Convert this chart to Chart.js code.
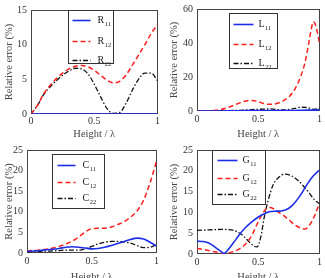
<!DOCTYPE html>
<html>
<head>
<meta charset="utf-8">
<script src="https://cdn.jsdelivr.net/npm/chart.js@4.4.0/dist/chart.umd.min.js"></script>
<style>
  html, body { margin: 0; padding: 0; background: #fff; width: 325px; height: 278px; overflow: hidden; }
  canvas { position: absolute; }
</style>
</head>
<body>
<canvas id="chartR"></canvas>
<canvas id="chartL"></canvas>
<canvas id="chartC"></canvas>
<canvas id="chartG"></canvas>
<script>
// ---- data ----
const xStep = [0, 0.05, 0.1, 0.15, 0.2, 0.25, 0.3, 0.35, 0.4, 0.45, 0.5, 0.55, 0.6, 0.65, 0.7, 0.75, 0.8, 0.85, 0.9, 0.95, 1];

const R11 = [0, 0, 0, 0, 0, 0, 0, 0, 0, 0, 0, 0, 0, 0, 0, 0, 0, 0, 0, 0, 0];
const R12 = [0, 1.2, 2.9, 4.1, 5.1, 5.9, 6.5, 6.9, 7.0, 6.8, 6.3, 5.6, 4.9, 4.5, 4.7, 5.6, 7.0, 8.5, 10.0, 11.6, 12.9];
const R22 = [0, 1.2, 2.8, 3.9, 4.8, 5.6, 6.2, 6.6, 6.5, 5.8, 4.3, 2.5, 0.8, 0.1, 0.2, 1.5, 3.4, 5.0, 5.9, 5.9, 4.8];

const xL = [0, 0.1, 0.2, 0.3, 0.4, 0.5, 0.6, 0.7, 0.8, 0.85, 0.9, 0.95, 1];
const L11 = [0, 0, 0, 0.1, 0.2, 0.3, 0.3, 0.3, 0.3, 0.4, 0.5, 0.5, 0.8];
const L22 = [0, 0, 0.1, 0.3, 0.6, 1.0, 1.2, 0.6, 1.5, 2.3, 2.0, 1.0, 1.5];
const xL12 = [0, 0.05, 0.1, 0.15, 0.2, 0.25, 0.3, 0.35, 0.4, 0.45, 0.5, 0.55, 0.6, 0.65, 0.7, 0.75, 0.8, 0.85, 0.88, 0.91, 0.93, 0.95, 0.97, 1];
const L12 = [0, 0, 0.1, 0.4, 1.0, 2.0, 3.3, 4.8, 5.9, 6.2, 5.5, 4.3, 3.9, 4.4, 5.8, 8.3, 13, 21, 28, 39, 47, 52.5, 50, 40];

const C11 = [0.4, 0.5, 0.6, 0.8, 0.9, 1.1, 1.4, 1.5, 1.4, 1.2, 1.0, 1.1, 1.4, 1.8, 2.3, 2.8, 3.3, 3.6, 3.4, 2.6, 1.7];
const C12 = [0.5, 0.6, 0.7, 0.9, 1.2, 1.6, 2.2, 2.9, 3.9, 5.1, 5.9, 6.0, 6.0, 6.3, 6.9, 7.6, 8.7, 10.2, 12.8, 17.0, 22.3];
const C22 = [0.3, 0.35, 0.4, 0.45, 0.5, 0.6, 0.7, 0.7, 0.7, 1.0, 1.6, 2.2, 2.6, 2.8, 2.8, 2.7, 2.4, 1.8, 1.3, 1.4, 2.0];

const xG11 = [0, 0.05, 0.1, 0.15, 0.2, 0.22, 0.25, 0.3, 0.35, 0.4, 0.45, 0.5, 0.55, 0.6, 0.65, 0.7, 0.75, 0.8, 0.85, 0.9, 0.95, 1];
const G11 = [3.1, 3.0, 2.6, 1.6, 0.5, 0.1, 0.9, 2.8, 4.8, 6.5, 7.8, 8.9, 9.7, 10.2, 10.3, 10.4, 11.0, 12.4, 14.4, 16.8, 18.8, 20.2];
const xG12 = [0, 0.05, 0.1, 0.15, 0.2, 0.22, 0.3, 0.35, 0.4, 0.45, 0.5, 0.55, 0.6, 0.65, 0.7, 0.75, 0.8, 0.85, 0.88, 0.92, 0.96, 1];
const G12 = [1.3, 1.1, 0.8, 0.5, 0.2, 0.1, 0.6, 1.3, 2.5, 4.6, 7.8, 10.4, 11.2, 10.3, 9.4, 8.2, 7.0, 6.2, 6.0, 7.0, 9.2, 12.2];
const xG22 = [0, 0.1, 0.2, 0.28, 0.33, 0.38, 0.43, 0.47, 0.49, 0.52, 0.55, 0.58, 0.62, 0.67, 0.72, 0.77, 0.82, 0.87, 0.92, 0.96, 1];
const G22 = [5.7, 5.8, 5.9, 5.8, 5.3, 4.3, 2.8, 1.8, 1.7, 4.0, 9.0, 12.8, 16.5, 18.5, 19.2, 18.8, 17.8, 16.3, 14.5, 13.0, 12.1];

const xTickStep = 0.5;
const yMaxR = 15, yStepR = 5;
const yMaxL = 60, yStepL = 20;
const yMaxC = 25, yStepC = 5;
const yMaxG = 25, yStepG = 5;

// ---- helpers ----
const SERIF = "'Liberation Serif', 'Times New Roman', serif";
const BLUE = '#1c2ee6', RED = '#ff1f1f', BLACK = '#111';

function pts(xs, ys) {
  return xs.map((x, i) => ({ x: x, y: ys[i] }));
}

function solid(label, data) {
  return { label, data, borderColor: BLUE, borderWidth: 1.6, borderDash: [] };
}
function dashed(label, data) {
  return { label, data, borderColor: RED, borderWidth: 1.5, borderDash: [5, 3] };
}
function dashDot(label, data) {
  return { label, data, borderColor: BLACK, borderWidth: 1.3, borderDash: [5, 2, 1.5, 2] };
}

// MATLAB-like axes box
const frameBox = {
  id: 'frameBox',
  beforeDatasetsDraw(chart) {
    const { ctx, chartArea: a } = chart;
    ctx.save();
    ctx.strokeStyle = '#444';
    ctx.lineWidth = 1;
    ctx.strokeRect(Math.round(a.left) + 0.5, Math.round(a.top) + 0.5,
      Math.round(a.width) - 1, Math.round(a.height) - 1);
    ctx.restore();
  }
};

// legend box inside the axes, with subscripted labels
const boxLegend = {
  id: 'boxLegend',
  afterDatasetsDraw(chart, args, opts) {
    const { ctx, chartArea: a } = chart;
    const x0 = Math.round(a.left + opts.x) + 0.5;
    const y0 = Math.round(a.top + opts.y) + 0.5;
    ctx.save();
    ctx.fillStyle = '#fff';
    ctx.fillRect(x0, y0, opts.w, opts.h);
    ctx.strokeStyle = '#333';
    ctx.lineWidth = 1;
    ctx.strokeRect(x0, y0, opts.w, opts.h);
    chart.data.datasets.forEach((ds, i) => {
      const y = y0 + opts.rows[i];
      ctx.strokeStyle = ds.borderColor;
      ctx.lineWidth = ds.borderWidth;
      ctx.setLineDash(ds.borderDash);
      ctx.beginPath();
      ctx.moveTo(x0 + opts.sx, y);
      ctx.lineTo(x0 + opts.sx + opts.sl, y);
      ctx.stroke();
      ctx.setLineDash([]);
      ctx.fillStyle = '#222';
      ctx.textBaseline = 'middle';
      ctx.font = '10px ' + SERIF;
      const letter = ds.label.charAt(0), sub = ds.label.slice(1);
      ctx.fillText(letter, x0 + opts.tx, y);
      const w = ctx.measureText(letter).width;
      ctx.font = '6.5px ' + SERIF;
      ctx.fillText(sub, x0 + opts.tx + w + 0.5, y + 3.5);
    });
    ctx.restore();
  }
};

function makeChart(id, geo, datasets, yMax, yStep, legend) {
  const el = document.getElementById(id);
  el.width = geo.w;
  el.height = geo.h;
  el.style.left = geo.left + 'px';
  el.style.top = geo.top + 'px';
  return new Chart(el.getContext('2d'), {
    type: 'line',
    data: { datasets: datasets },
    options: {
      responsive: false,
      animation: false,
      devicePixelRatio: 1,
      layout: { padding: { top: geo.pt, right: geo.pr, left: 0, bottom: 0 } },
      elements: {
        point: { radius: 0 },
        line: { cubicInterpolationMode: 'monotone', fill: false }
      },
      plugins: {
        legend: { display: false },
        tooltip: { enabled: false },
        boxLegend: legend
      },
      scales: {
        x: {
          type: 'linear', min: 0, max: 1,
          grid: { display: false, drawTicks: false },
          border: { display: false },
          ticks: { stepSize: xTickStep, padding: geo.xpad, color: '#333',
                   font: { family: SERIF, size: 10, lineHeight: 1 },
                   callback: (v) => String(v) },
          title: { display: true, text: 'Height / λ', color: '#444', padding: 0,
                   font: { family: SERIF, size: 10.5, lineHeight: 1.1 } },
          afterFit: (s) => { s.height = geo.xh; }
        },
        y: {
          min: 0, max: yMax,
          grid: { display: false, drawTicks: false },
          border: { display: false },
          ticks: { stepSize: yStep, padding: 4, color: '#333',
                   font: { family: SERIF, size: 10, lineHeight: 1 } },
          title: { display: true, text: 'Relative error (%)', color: '#444', padding: 3,
                   font: { family: SERIF, size: 10.5, lineHeight: 1.1 } },
          afterFit: (s) => { s.width = geo.yw; }
        }
      }
    },
    plugins: [frameBox, boxLegend]
  });
}

document.addEventListener('DOMContentLoaded', function () {
  makeChart('chartR',
    { left: 0, top: 0, w: 162, h: 140, pt: 10, pr: 4, yw: 31, xh: 26, xpad: 2 },
    [solid('R11', pts(xStep, R11)), dashed('R12', pts(xStep, R12)), dashDot('R22', pts(xStep, R22))],
    yMaxR, yStepR,
    { x: 37, y: 0, w: 45, h: 53, rows: [10, 31, 50], sx: 4, sl: 18, tx: 29 });

  makeChart('chartL',
    { left: 165, top: 0, w: 160, h: 140, pt: 6, pr: 4, yw: 32, xh: 29, xpad: 3 },
    [solid('L11', pts(xL, L11)), dashed('L12', pts(xL12, L12)), dashDot('L22', pts(xL, L22))],
    yMaxL, yStepL,
    { x: 32, y: 4, w: 48, h: 55, rows: [11, 31, 50], sx: 4, sl: 20, tx: 29 });

  makeChart('chartC',
    { left: 0, top: 140, w: 162, h: 143, pt: 10, pr: 4, yw: 27, xh: 30, xpad: 3 },
    [solid('C11', pts(xStep, C11)), dashed('C12', pts(xStep, C12)), dashDot('C22', pts(xStep, C22))],
    yMaxC, yStepC,
    { x: 25, y: 4, w: 52, h: 54, rows: [11, 28, 44], sx: 5, sl: 18, tx: 30 });

  makeChart('chartG',
    { left: 165, top: 140, w: 160, h: 143, pt: 10, pr: 4, yw: 32, xh: 29, xpad: 3 },
    [solid('G11', pts(xG11, G11)), dashed('G12', pts(xG12, G12)), dashDot('G22', pts(xG22, G22))],
    yMaxG, yStepG,
    { x: 15, y: 0, w: 53, h: 54, rows: [10, 28, 44], sx: 5, sl: 20, tx: 30 });
});
</script>
</body>
</html>
